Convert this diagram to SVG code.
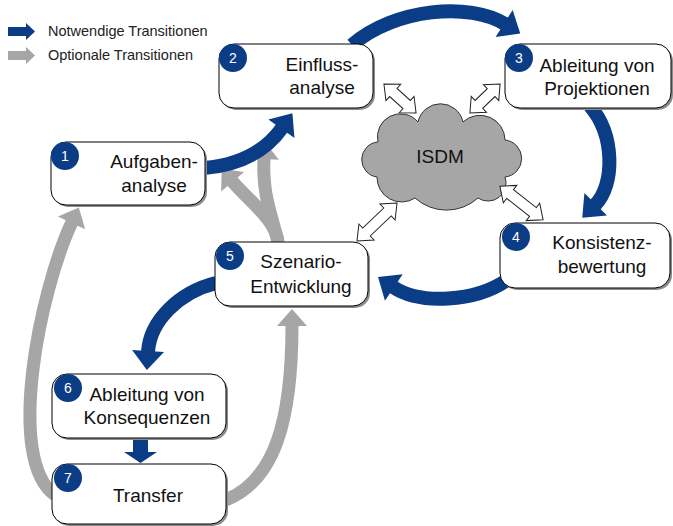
<svg xmlns="http://www.w3.org/2000/svg" width="673" height="526" viewBox="0 0 673 526">
<style>
.box{fill:#fff;stroke:#000;stroke-width:1}
.shadow{fill:#8c8c8c}
.num{fill:#0B3D86}
.numt{fill:#fff;font-family:"Liberation Sans",Arial,sans-serif;font-size:14px;text-anchor:middle}
.lbl{fill:#111;font-family:"Liberation Sans",Arial,sans-serif;font-size:19px;text-anchor:middle}
.leg{fill:#222;font-family:"Liberation Sans",Arial,sans-serif;font-size:14.5px}
.bl{fill:none;stroke:#0B3D86;stroke-width:14}
.gr{fill:none;stroke:#A6A6A6;stroke-width:13}
.dbl{fill:#fff;stroke:#222;stroke-width:1}
</style>
<defs>
<marker id="hb" markerUnits="userSpaceOnUse" markerWidth="22" markerHeight="34" refX="1" refY="17" orient="auto" overflow="visible"><path d="M0,1 L19,17 L0,33 Z" fill="#0B3D86"/></marker>
<marker id="hg" markerUnits="userSpaceOnUse" markerWidth="20" markerHeight="32" refX="1" refY="16" orient="auto" overflow="visible"><path d="M0,1 L17,16 L0,31 Z" fill="#A6A6A6"/></marker>
</defs>
<rect width="673" height="526" fill="#fff"/>
<g id="legend">
<path d="M8,27 H26 V23 L35,31.5 L26,40 V36 H8 Z" fill="#0B3D86"/>
<text class="leg" x="48" y="36">Notwendige Transitionen</text>
<path d="M8,51 H26 V47 L35,55.5 L26,64 V60 H8 Z" fill="#A6A6A6"/>
<text class="leg" x="48" y="60">Optionale Transitionen</text>
</g>
<g id="isdm">
<path d="M377,177 A17.6,17.6 0 0 1 378,142 A23,23 0 0 1 418,122 A23,23 0 0 1 463,122 A25,25 0 0 1 505,140 A18.6,18.6 0 0 1 505,177 A18,18 0 0 1 478,198 A47,47 0 0 1 415,198 A24.6,24.6 0 0 1 377,177 Z" fill="#A6A6A6" stroke="#333" stroke-width="1"/>
<text class="lbl" x="440" y="163">ISDM</text>
</g>
<g id="connectors">
<path class="gr" d="M55,495 C5,460 40,290 72,222" marker-end="url(#hg)"/>
<path class="gr" d="M226,500 C275,480 292,420 292,325" marker-end="url(#hg)"/>
<path class="gr" d="M278,242 C276,220 248,200 232,181" marker-end="url(#hg)"/>
<path class="gr" d="M278,242 C272,215 262,195 264,158" marker-end="url(#hg)"/>
<path class="bl" d="M204,168 C238,165 265,152 282,128" marker-end="url(#hb)"/>
<path class="bl" d="M352,45 C395,8 470,2 505,24" marker-end="url(#hb)"/>
<path class="bl" d="M590,106 C615,135 615,185 595,205" marker-end="url(#hb)"/>
<path class="bl" d="M507,280 C475,302 420,305 393,287" marker-end="url(#hb)"/>
<path class="bl" d="M216,283 C180,292 150,320 148,352" marker-end="url(#hb)"/>
<path d="M133,438 H148 V452 H157 L140.5,463 L124,452 H133 Z" fill="#0B3D86"/>
<path class="dbl" transform="translate(400,98.5) rotate(42)" d="M-21.6,0 L-9,-11 L-9,-5.5 L9,-5.5 L9,-11 L21.6,0 L9,11 L9,5.5 L-9,5.5 L-9,11 Z"/>
<path class="dbl" transform="translate(485,98.5) rotate(-44)" d="M-21,0 L-8.5,-11 L-8.5,-5.5 L8.5,-5.5 L8.5,-11 L21,0 L8.5,11 L8.5,5.5 L-8.5,5.5 L-8.5,11 Z"/>
<path class="dbl" transform="translate(521.5,203) rotate(38)" d="M-27.4,0 L-14.5,-11 L-14.5,-5.5 L14.5,-5.5 L14.5,-11 L27.4,0 L14.5,11 L14.5,5.5 L-14.5,5.5 L-14.5,11 Z"/>
<path class="dbl" transform="translate(377,222) rotate(-43.5)" d="M-27.6,0 L-14.5,-11 L-14.5,-5.5 L14.5,-5.5 L14.5,-11 L27.6,0 L14.5,11 L14.5,5.5 L-14.5,5.5 L-14.5,11 Z"/>
</g>
<g id="n1">
<rect class="shadow" x="53" y="144" width="154" height="63" rx="15"/>
<rect class="box" x="51" y="142" width="154" height="63" rx="15"/>
<circle class="num" cx="65" cy="156" r="14"/><text class="numt" x="65" y="161">1</text>
<text class="lbl" x="154" y="168">Aufgaben-</text><text class="lbl" x="154" y="192">analyse</text>
</g>
<g id="n2">
<rect class="shadow" x="221" y="46" width="154" height="64" rx="15"/>
<rect class="box" x="219" y="44" width="154" height="64" rx="15"/>
<circle class="num" cx="233" cy="58" r="14"/><text class="numt" x="233" y="63">2</text>
<text class="lbl" x="322" y="71">Einfluss-</text><text class="lbl" x="322" y="94">analyse</text>
</g>
<g id="n3">
<rect class="shadow" x="507" y="46" width="166" height="64" rx="15"/>
<rect class="box" x="505" y="44" width="166" height="64" rx="15"/>
<circle class="num" cx="519" cy="58" r="14"/><text class="numt" x="519" y="63">3</text>
<text class="lbl" x="597" y="72">Ableitung von</text><text class="lbl" x="597" y="95">Projektionen</text>
</g>
<g id="n4">
<rect class="shadow" x="502" y="225" width="170" height="65" rx="15"/>
<rect class="box" x="500" y="223" width="170" height="65" rx="15"/>
<circle class="num" cx="516" cy="237" r="14"/><text class="numt" x="516" y="242">4</text>
<text class="lbl" x="602" y="249">Konsistenz-</text><text class="lbl" x="602" y="273">bewertung</text>
</g>
<g id="n5">
<rect class="shadow" x="217" y="244" width="153" height="64" rx="15"/>
<rect class="box" x="215" y="242" width="153" height="64" rx="15"/>
<circle class="num" cx="230" cy="256" r="14"/><text class="numt" x="230" y="261">5</text>
<text class="lbl" x="301" y="268">Szenario-</text><text class="lbl" x="301" y="293">Entwicklung</text>
</g>
<g id="n6">
<rect class="shadow" x="54" y="376" width="174" height="64" rx="15"/>
<rect class="box" x="52" y="374" width="174" height="64" rx="15"/>
<circle class="num" cx="68" cy="388" r="14"/><text class="numt" x="68" y="393">6</text>
<text class="lbl" x="147" y="401">Ableitung von</text><text class="lbl" x="147" y="424">Konsequenzen</text>
</g>
<g id="n7">
<rect class="shadow" x="54" y="466" width="174" height="60" rx="15"/>
<rect class="box" x="52" y="464" width="174" height="60" rx="15"/>
<circle class="num" cx="68" cy="478" r="14"/><text class="numt" x="68" y="483">7</text>
<text class="lbl" x="148" y="502">Transfer</text>
</g>
</svg>
